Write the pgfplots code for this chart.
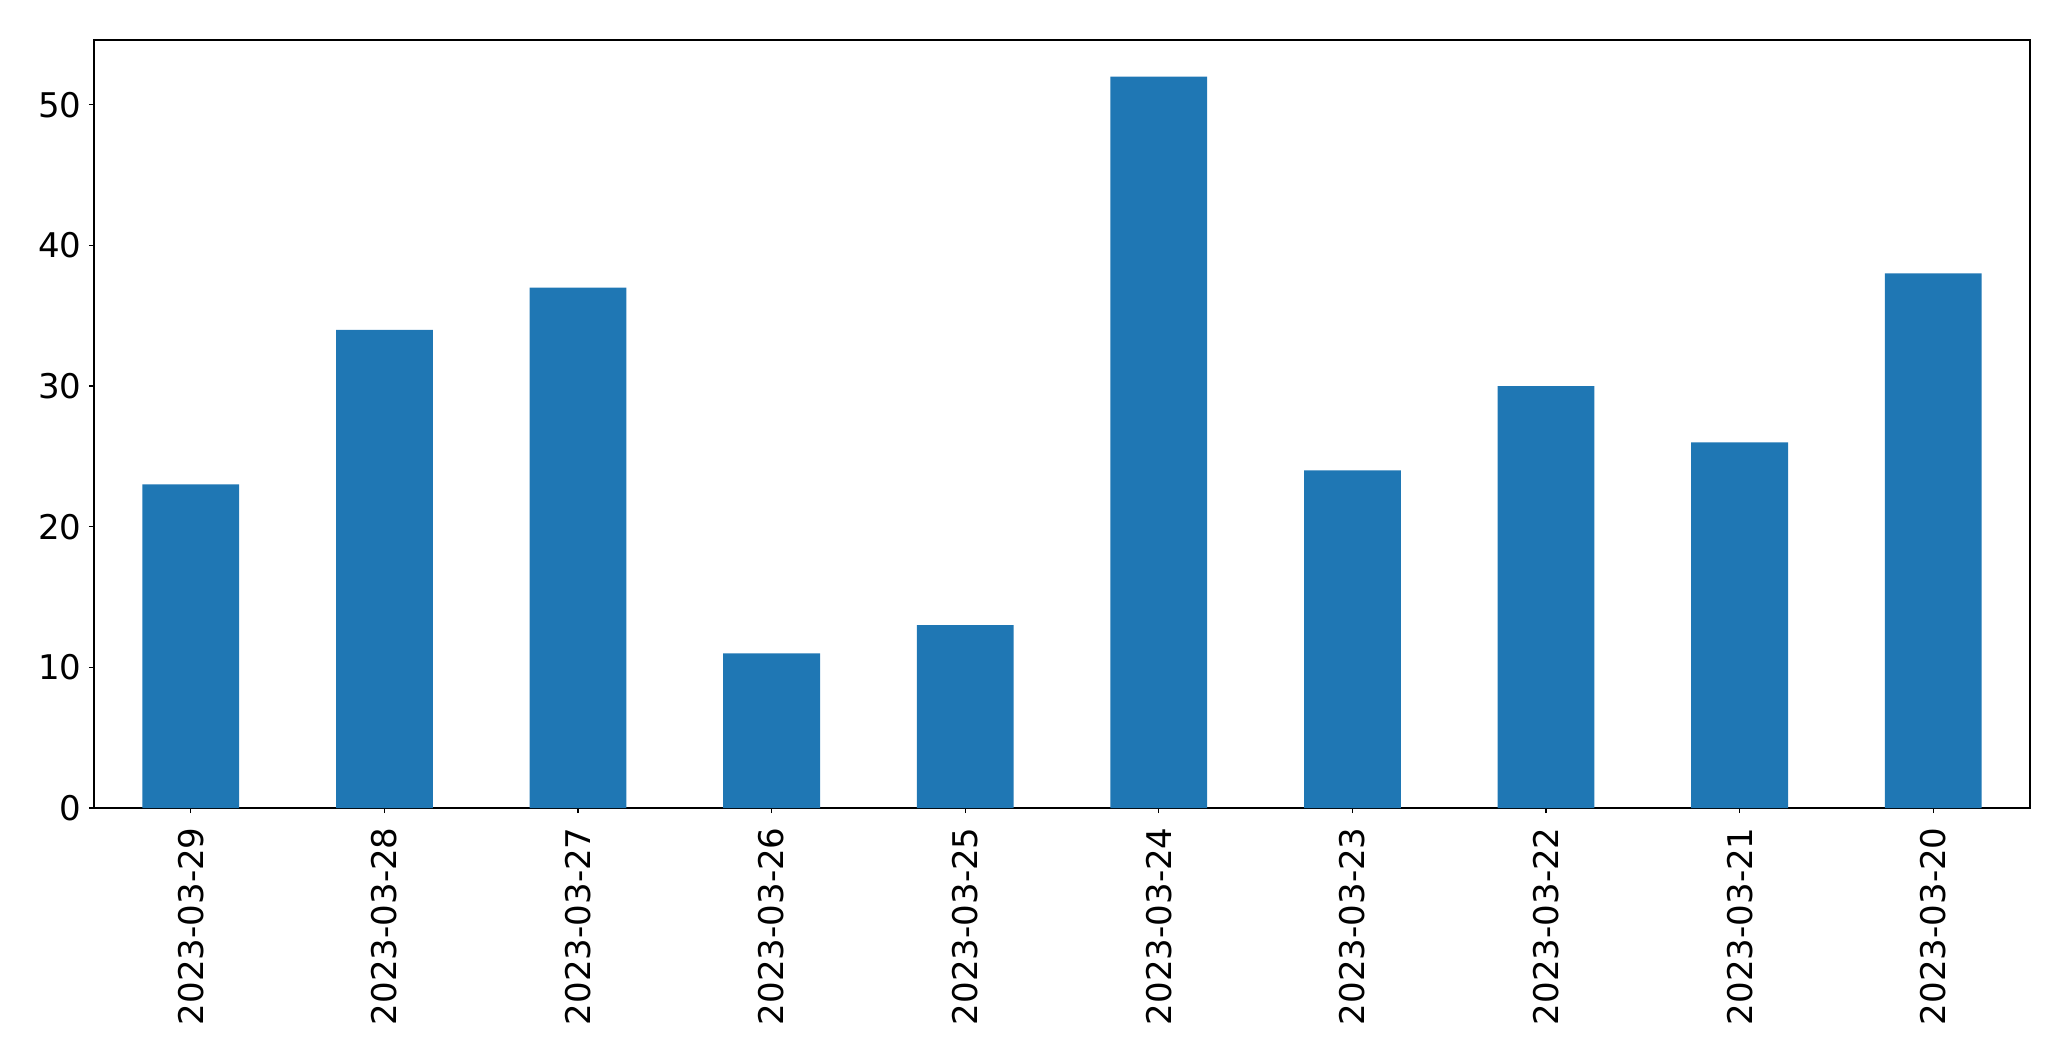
\documentclass[border=0pt]{standalone}
\usepackage{pgfplots}
\pgfplotsset{compat=1.18}
\usepackage{fontspec}
\setmainfont{DejaVu Sans}
\definecolor{mplblue}{HTML}{1F77B4}

\begin{document}
\begin{tikzpicture}
\begin{axis}[
    width=968pt, height=384pt,
    scale only axis,
    ybar, bar width=0.5,
    xmin=-0.5, xmax=9.5,
    ymin=0, ymax=54.6,
    xtick=data,
    xticklabels={2023-03-29,2023-03-28,2023-03-27,2023-03-26,2023-03-25,2023-03-24,2023-03-23,2023-03-22,2023-03-21,2023-03-20},
    ytick={0,10,20,30,40,50},
    tick align=outside,
    major tick length=2.5pt,
    xtick pos=bottom, ytick pos=left,
    axis line style={line width=0.6pt},
    tick style={line width=0.6pt, black},
    ticklabel style={font=\fontsize{17}{20}\selectfont},
    /pgf/number format/assume math mode=true,
    xticklabel style={rotate=90, anchor=east, inner sep=0pt, xshift=0pt},
    yticklabel style={inner sep=0pt},
    xticklabel shift=7pt,
    yticklabel shift=3.5pt,
]
\addplot[fill=mplblue, draw=none, bar shift=0pt] coordinates {
(0,23)(1,34)(2,37)(3,11)(4,13)(5,52)(6,24)(7,30)(8,26)(9,38)
};
\end{axis}
\path (current axis.south west) ++(-47pt,-126.5pt) rectangle ([shift={(20.5pt,20pt)}]current axis.north east);
\end{tikzpicture}
\end{document}
